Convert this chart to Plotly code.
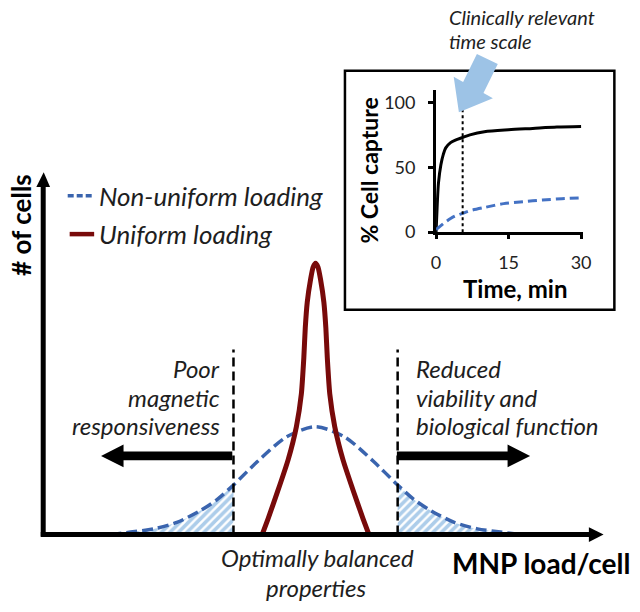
import plotly.graph_objects as go

W, H = 640, 612


def PX(x):
    return x / W


def PY(y):
    return 1 - y / H


# ---------------- data ----------------
# main panel: MNP load (arb. units) vs # of cells (arb. units)
load_nonuniform = [1.45, 1.8, 2.2, 2.6, 3.0, 3.3, 3.58, 4.0, 4.5, 5.0, 5.5, 6.0, 6.42, 6.7, 7.0, 7.4, 7.8, 8.2, 8.55]
cells_nonuniform = [0, 0.7, 1.6, 3.4, 6.6, 9.8, 13.8, 20.4, 27.2, 30, 27.2, 20.4, 13.8, 9.8, 6.6, 3.4, 1.6, 0.7, 0]

load_uniform = [4.076, 4.178, 4.339, 4.525, 4.669, 4.754, 4.797, 4.822, 4.856, 4.915, 4.958, 5.0,
                5.042, 5.085, 5.144, 5.178, 5.203, 5.246, 5.331, 5.475, 5.661, 5.822, 5.924]
cells_uniform = [0, 4.4, 11.8, 20.8, 30.1, 39.1, 49.2, 57.5, 64.6, 71.1, 74.4, 75.5,
                 74.4, 71.1, 64.6, 57.5, 49.2, 39.1, 30.1, 20.8, 11.8, 4.4, 0]

low_cut = 3.58     # poor magnetic responsiveness below
high_cut = 6.42    # reduced viability above
cut_top = 51.5     # height of dashed cut lines

# inset: % cell capture vs time
time_uniform = [0, 0.25, 0.5, 1, 1.5, 2, 3, 4, 5.5, 7, 10, 15, 20, 25, 30]
capture_uniform = [0, 22, 38, 52, 60, 65, 69, 71, 73, 75, 77.5, 79, 80, 81, 81.5]
time_nonuniform = [0, 1, 2, 3, 4, 5.5, 7, 10, 14, 18, 22, 26, 30]
capture_nonuniform = [2, 5, 8, 10.5, 12.5, 14.5, 16.5, 19, 22, 23.5, 24.8, 25.8, 26.5]
clinical_time = 5.5
clinical_top = 98
inset_xticks = [0, 15, 30]
inset_yticks = [0, 50, 100]

# ---------------- colors / fonts ----------------
BLUE = "#3A64AE"
BLUE_INSET = "#4472C4"
HATCH = "#5B9BD5"
RED = "#780A0A"
LIGHT_ARROW = "#9DC3E6"
TXT = "#1E1E1E"
FONT = "Lato"

fig = go.Figure()

# hatched tails
left_idx = [i for i, x in enumerate(load_nonuniform) if x <= low_cut]
right_idx = [i for i, x in enumerate(load_nonuniform) if x >= high_cut]
for idx in (left_idx, right_idx):
    fig.add_trace(go.Scatter(
        x=[load_nonuniform[i] for i in idx], y=[cells_nonuniform[i] for i in idx],
        mode="lines", line=dict(width=0, shape="spline", smoothing=0.8),
        fill="tozeroy", fillcolor="rgba(0,0,0,0)",
        fillpattern=dict(shape="/", fgcolor=HATCH, bgcolor="white", size=6, solidity=0.6),
        xaxis="x", yaxis="y", showlegend=False, hoverinfo="skip"))

fig.add_trace(go.Scatter(
    x=load_nonuniform, y=cells_nonuniform, mode="lines",
    line=dict(color=BLUE, width=3.5, dash="11px,5px", shape="spline", smoothing=0.8),
    xaxis="x", yaxis="y", showlegend=False, name="Non-uniform loading"))
fig.add_trace(go.Scatter(
    x=load_uniform, y=cells_uniform, mode="lines",
    line=dict(color=RED, width=5, shape="spline", smoothing=0.5),
    xaxis="x", yaxis="y", showlegend=False, name="Uniform loading"))

# inset curves
fig.add_trace(go.Scatter(
    x=time_uniform, y=capture_uniform, mode="lines",
    line=dict(color="black", width=3, shape="spline", smoothing=0.8),
    xaxis="x2", yaxis="y2", showlegend=False, cliponaxis=False))
fig.add_trace(go.Scatter(
    x=time_nonuniform, y=capture_nonuniform, mode="lines",
    line=dict(color=BLUE_INSET, width=3, dash="9px,5px", shape="spline", smoothing=0.8),
    xaxis="x2", yaxis="y2", showlegend=False, cliponaxis=False))

shapes = []
annotations = []


def poly(points, color):
    d = "M " + " L ".join(f"{PX(x):.5f},{PY(y):.5f}" for x, y in points) + " Z"
    return dict(type="path", path=d, xref="paper", yref="paper",
                fillcolor=color, line=dict(width=0), layer="above")


def line(x0, y0, x1, y1, color="black", width=2, dash="solid"):
    return dict(type="line", xref="paper", yref="paper", x0=PX(x0), y0=PY(y0),
                x1=PX(x1), y1=PY(y1), line=dict(color=color, width=width, dash=dash))


# main axes arrows
shapes.append(line(39, 545.5, 39, 186, width=5))
shapes.append(poly([(32, 190), (46, 190), (39.5, 175)], "black"))
shapes.append(line(36.5, 543.5, 598, 543.5, width=5))
shapes.append(poly([(596, 536), (596, 551), (611, 543.5)], "black"))

# dashed cut lines
for xc in (low_cut, high_cut):
    shapes.append(dict(type="line", xref="x", yref="y", x0=xc, x1=xc, y0=0, y1=cut_top,
                       line=dict(color="black", width=2.5, dash="9px,5px")))

# big black arrows
shapes.append(poly([(232, 459), (121, 459), (121, 452), (98, 463.5), (121, 475), (121, 468), (232, 468)], "black"))
shapes.append(poly([(400, 459), (513, 459), (513, 452), (536, 463.5), (513, 475), (513, 468), (400, 468)], "black"))

# legend marks
shapes.append(line(64, 199, 90, 199, color=BLUE, width=3.5, dash="6px,3px"))
shapes.append(line(66, 238, 91, 238, color=RED, width=4.5))

# inset frame
shapes.append(dict(type="rect", xref="paper", yref="paper", x0=PX(347), x1=PX(622),
                   y0=PY(315), y1=PY(72), line=dict(color="black", width=2.5), fillcolor="rgba(0,0,0,0)"))
# clinical time dotted line
shapes.append(dict(type="line", xref="x2", yref="y2", x0=clinical_time, x1=clinical_time,
                   y0=0, y1=clinical_top, line=dict(color="black", width=2, dash="dot")))
# light blue arrow
shapes.append(poly([(481.7, 55), (467.6, 83.4), (458, 78), (463.3, 114), (498, 100),
                    (488.4, 94.6), (503, 65)], LIGHT_ARROW))


def text(t, x, y, size, xanchor="center", italic=False, bold=False, angle=0, color=TXT):
    s = t
    if bold:
        s = f"<b>{s}</b>"
    if italic:
        s = f"<i>{s}</i>"
    annotations.append(dict(text=s, x=PX(x), y=PY(y), xref="paper", yref="paper",
                            xanchor=xanchor, yanchor="middle", showarrow=False,
                            textangle=angle, font=dict(family=FONT, size=size, color=color)))


text("# of cells", 17, 229, 26, bold=True, angle=-90, color="black")
text("Non-uniform loading", 94, 199, 26, xanchor="left", italic=True)
text("Uniform loading", 94, 238, 26, xanchor="left", italic=True)
text("Poor", 221, 375, 24, xanchor="right", italic=True)
text("magnetic", 221, 404, 24, xanchor="right", italic=True)
text("responsiveness", 221, 433, 24, xanchor="right", italic=True)
text("Reduced", 417, 375, 24, xanchor="left", italic=True)
text("viability and", 417, 404, 24, xanchor="left", italic=True)
text("biological function", 417, 433, 24, xanchor="left", italic=True)
text("Optimally balanced", 319, 567, 24, italic=True)
text("properties", 318, 597, 24, italic=True)
text("MNP load/cell", 547, 572, 28, bold=True, color="black")
text("Clinically relevant", 451, 17, 20, xanchor="left", italic=True)
text("time scale", 451, 42, 20, xanchor="left", italic=True)
text("% Cell capture", 372, 173, 23, bold=True, angle=-90, color="black")
text("Time, min", 521, 293, 24, bold=True, color="black")

fig.update_layout(
    width=W, height=H, margin=dict(l=0, r=0, t=0, b=0),
    paper_bgcolor="white", plot_bgcolor="rgba(0,0,0,0)",
    showlegend=False,
    xaxis=dict(domain=[PX(22), PX(612)], range=[0, 10], visible=False),
    yaxis=dict(domain=[PY(543.5), PY(178)], range=[0, 100], visible=False),
    xaxis2=dict(domain=[PX(440), PX(590)], range=[0, 30.4], anchor="y2",
                showline=True, linecolor="black", linewidth=3, showgrid=False, zeroline=False,
                ticks="outside", ticklen=4, tickwidth=2.5, tickcolor="black",
                tickvals=inset_xticks, ticklabelstandoff=8,
                tickfont=dict(family=FONT, size=18, color="#222")),
    yaxis2=dict(domain=[PY(236), PY(91)], range=[0, 110], anchor="x2",
                showline=True, linecolor="black", linewidth=3, showgrid=False, zeroline=False,
                ticks="outside", ticklen=5, tickwidth=2.5, tickcolor="black",
                tickvals=inset_yticks, ticklabelstandoff=9,
                tickfont=dict(family=FONT, size=18, color="#222")),
    shapes=shapes, annotations=annotations,
)

fig.write_html("out.html", config={"displayModeBar": False},
               post_script="document.body.style.margin='0px';document.body.style.overflow='hidden';")
